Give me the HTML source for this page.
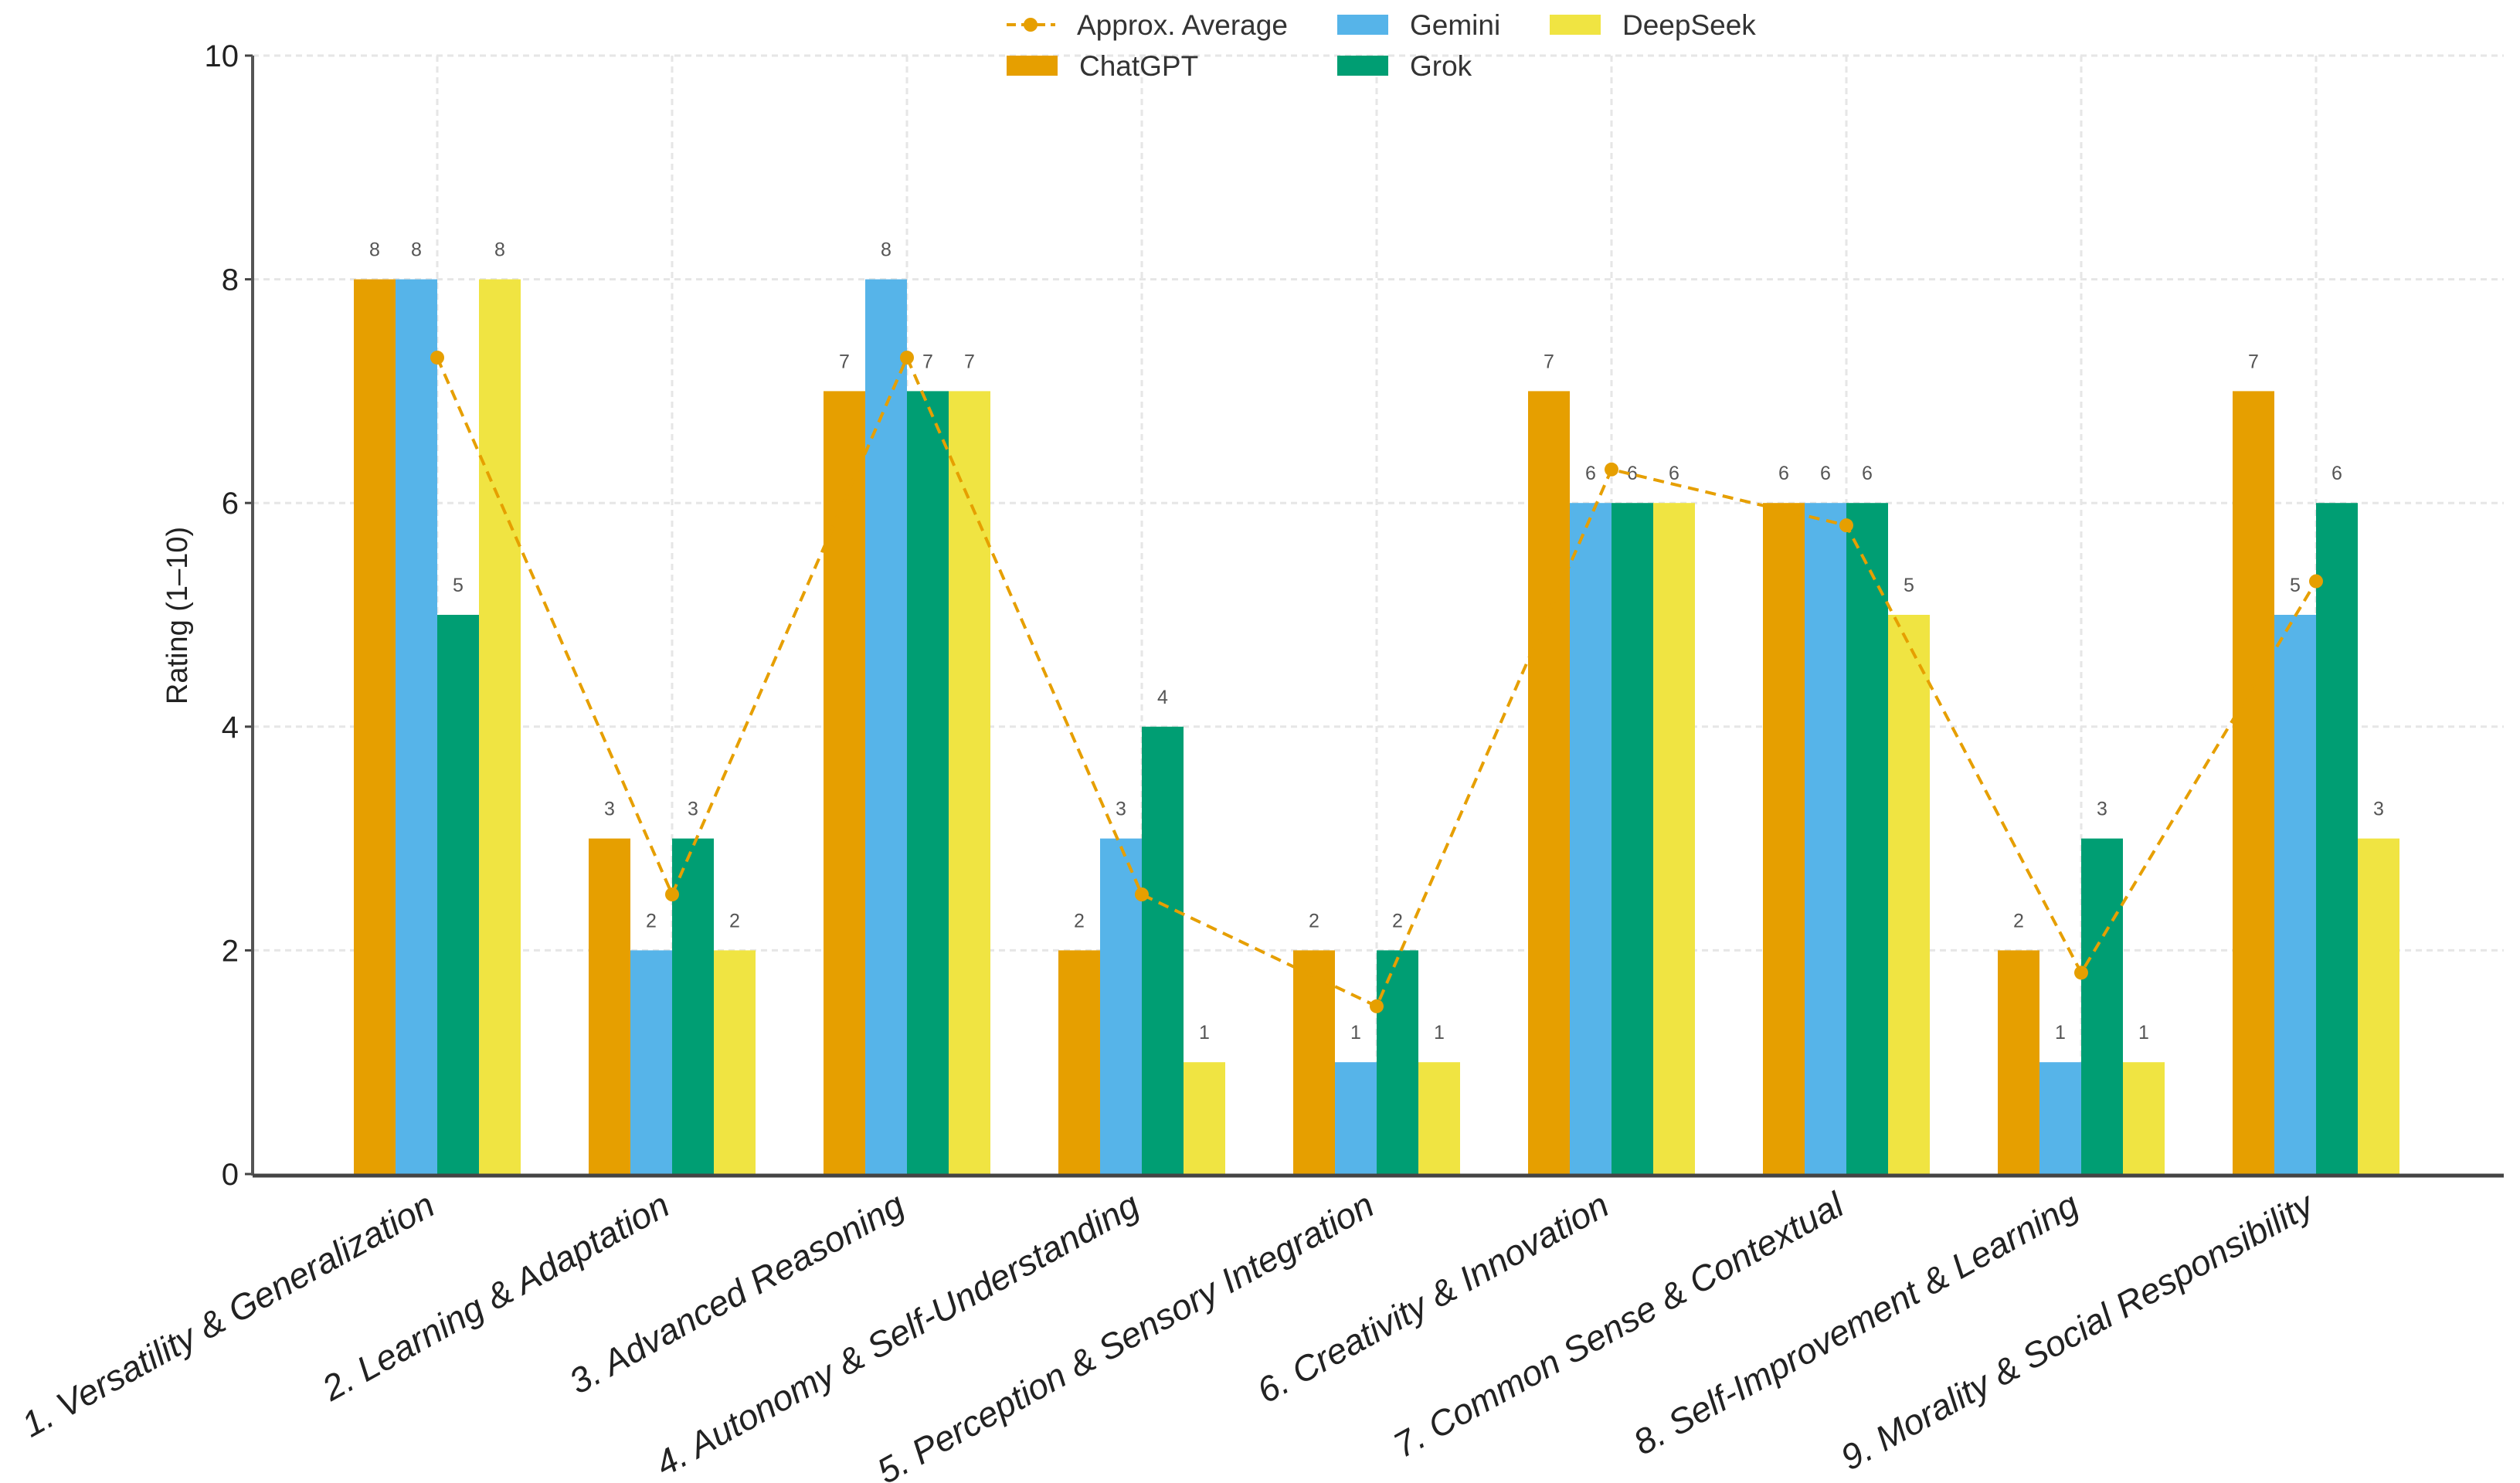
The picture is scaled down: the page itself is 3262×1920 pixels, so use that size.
<!DOCTYPE html>
<html><head><meta charset="utf-8"><style>
html,body{margin:0;padding:0;background:#fff;}
svg{display:block;font-family:"Liberation Sans Narrow","Liberation Sans",sans-serif;}
</style></head><body>
<svg id="chart" width="3262" height="1920" viewBox="0 0 3262 1920" xmlns="http://www.w3.org/2000/svg">
<rect x="0" y="0" width="3262" height="1920" fill="#fff"/>
<g id="grid"></g>
<g id="bars"></g>
<g id="avg"></g>
<g id="axes"></g>
<g id="legend"></g>
</svg>
<script>
const categories = ["1. Versatility & Generalization","2. Learning & Adaptation","3. Advanced Reasoning","4. Autonomy & Self-Understanding","5. Perception & Sensory Integration","6. Creativity & Innovation","7. Common Sense & Contextual","8. Self-Improvement & Learning","9. Morality & Social Responsibility"];
const chatgpt = [8,3,7,2,2,7,6,2,7];
const gemini = [8,2,8,3,1,6,6,1,5];
const grok = [5,3,7,4,2,6,6,3,6];
const deepseek = [8,2,7,1,1,6,5,1,3];
const average = [7.3,2.5,7.3,2.5,1.5,6.3,5.8,1.8,5.3];
const yTicks = [0,2,4,6,8,10];

const NS="http://www.w3.org/2000/svg";
const X0=327, XR=3241, Y0=1520, Y10=72;
const G0=566, GS=304, BW=54;
function xScale(i){return G0+i*GS;}
function yScale(v){return Y0-(Y0-Y10)*v/10;}
function mk(tag,attrs,parent){const e=document.createElementNS(NS,tag);for(const k in attrs)e.setAttribute(k,attrs[k]);parent.appendChild(e);return e;}
const grid=document.getElementById('grid'),bars=document.getElementById('bars'),avg=document.getElementById('avg'),axes=document.getElementById('axes'),legend=document.getElementById('legend');

yTicks.forEach(t=>{
  if(t>0){const l=mk('line',{x1:X0,x2:XR,y1:yScale(t),y2:yScale(t),stroke:'#e6e6e6','stroke-width':3,'stroke-dasharray':'8 6'},grid);
  
  }
  const tk=mk('line',{x1:X0-10,x2:X0,y1:yScale(t),y2:yScale(t),stroke:'#444','stroke-width':3},axes);
  
  
  const tx=mk('text',{x:X0-18,y:yScale(t)+14,'text-anchor':'end','font-size':40,fill:'#222'},axes);
  tx.textContent=t;
  
  
});
categories.forEach((c,i)=>{
  const l=mk('line',{x1:xScale(i),x2:xScale(i),y1:Y10,y2:Y0,stroke:'#e6e6e6','stroke-width':3,'stroke-dasharray':'8 6'},grid);
  
  
});

const series=[[chatgpt,'#E69F00','chatgpt'],[gemini,'#56B4E9','gemini'],[grok,'#009E73','grok'],[deepseek,'#F0E442','deepseek']];
series.forEach((s,si)=>{
  s[0].forEach((v,i)=>{
    const cx=xScale(i)+(si-1.5)*BW;
    const r=mk('rect',{x:cx-BW/2,y:yScale(v),width:BW,height:Y0-yScale(v),fill:s[1]},bars);
    
    
    const t=mk('text',{x:cx,y:yScale(v)-30,'text-anchor':'middle','font-size':25,fill:'#555'},bars);
    t.textContent=v;
    
    
  });
});

const pts=average.map((v,i)=>xScale(i)+','+yScale(v)).join(' ');
const pl=mk('polyline',{points:pts,fill:'none',stroke:'#E69F00','stroke-width':4,'stroke-dasharray':'14 9'},avg);


average.forEach((v,i)=>{
  const c=mk('circle',{cx:xScale(i),cy:yScale(v),r:9,fill:'#E69F00'},avg);
  
  
});

const la=mk('line',{x1:X0,x2:X0,y1:Y10,y2:Y0+2,stroke:'#555','stroke-width':4},axes);


const lb=mk('line',{x1:X0,x2:XR,y1:Y0+2,y2:Y0+2,stroke:'#444','stroke-width':5},axes);


categories.forEach((c,i)=>{
  const t=mk('text',{x:xScale(i),y:Y0+50,'text-anchor':'end','font-size':46,'font-style':'italic',fill:'#222',transform:'rotate(-29 '+xScale(i)+' '+(Y0+50)+')'},axes);
  t.textContent=c;
  
  
});
const yt=mk('text',{x:0,y:0,'text-anchor':'middle','font-size':38,fill:'#222',transform:'translate(242 797) rotate(-90)'},axes);
yt.textContent='Rating (1–10)';



const ll=mk('line',{x1:1303,x2:1366,y1:32,y2:32,stroke:'#E69F00','stroke-width':4,'stroke-dasharray':'12 7'},legend);


const lc=mk('circle',{cx:1334,cy:32,r:9,fill:'#E69F00'},legend);


const entries=[['Approx. Average',null,1394,32],['Gemini','#56B4E9',1731,32],['DeepSeek','#F0E442',2006,32],['ChatGPT','#E69F00',1303,85],['Grok','#009E73',1731,85]];
entries.forEach(e=>{
  if(e[1]){const r=mk('rect',{x:e[2],y:e[3]-13,width:66,height:26,fill:e[1]},legend);
    
    }
  const tx=e[1]?e[2]+94:e[2];
  const t=mk('text',{x:tx,y:e[3]+13,'font-size':37,fill:'#333'},legend);
  t.textContent=e[0];
  
  
});
</script>
</body></html>
